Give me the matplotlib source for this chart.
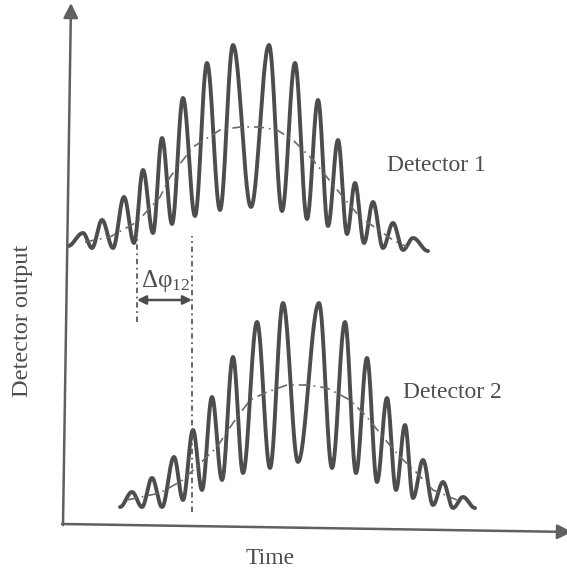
import matplotlib.pyplot as plt
import numpy as np

plt.rcParams['font.family'] = ['Liberation Serif', 'DejaVu Serif']
plt.rcParams['mathtext.fontset'] = 'custom'
plt.rcParams['mathtext.rm'] = 'Liberation Serif'
plt.rcParams['mathtext.it'] = 'Liberation Serif:italic'

# fringe extremes (alternating trough / peak), time vs detector output
det1_t = [68, 83, 92, 102, 113, 124, 134, 143, 153, 162, 172, 183, 195, 207, 220, 233, 251,
          269, 282, 295, 307, 318, 328, 338, 347, 355, 364, 373, 383, 393, 403, 413, 428]
det1_v = [323, 336, 321, 349, 321, 372, 326, 399, 336, 431, 345, 471, 353, 506, 359, 524, 362,
          524, 358, 506, 350, 469, 343, 429, 335, 386, 326, 367, 321, 346, 319, 331, 318]

det2_t = [120, 132, 142, 152, 162, 174, 183, 193, 202, 212, 222, 233, 243, 257, 270, 283, 298,
          319, 332, 345, 356, 367, 377, 387, 396, 405, 413, 423, 433, 443, 453, 463, 475]
det2_v = [62, 77, 62, 91, 62, 112, 69, 139, 79, 172, 89, 212, 96, 247, 101, 266, 107,
          266, 101, 247, 96, 211, 87, 171, 79, 144, 71, 109, 64, 87, 61, 72, 61]

# mean level (dash-dot)
env1_t = [85, 110, 137, 160, 170, 193, 220, 240, 260, 277, 293, 313, 343, 360, 393, 407]
env1_v = [327, 332, 347, 372, 392, 422, 439, 442, 442, 439, 429, 409, 372, 352, 329, 322]
env2_t = [127, 160, 183, 217, 233, 250, 267, 287, 307, 327, 350, 367, 383, 400, 417, 433, 457]
env2_v = [69, 76, 89, 122, 146, 169, 177, 184, 184, 181, 169, 152, 132, 112, 96, 79, 69]

# phase delay markers
mark_t = [137, 192]
mark_lo = [247, 57]
mark_hi = [337, 333]
arrow_v = 269

labels = ['Detector 1', 'Detector 2']

ink = '#4d4d4d'


def fringe(t, v, n=30):
    # smooth cosine stroke between consecutive extremes
    xs, ys = [], []
    for i in range(len(t) - 1):
        s = np.linspace(0, 1, n, endpoint=False)
        w = (1 - np.cos(np.pi * s)) / 2
        xs.append(t[i] + (t[i + 1] - t[i]) * s)
        ys.append(v[i] + (v[i + 1] - v[i]) * w)
    xs.append([t[-1]])
    ys.append([v[-1]])
    return np.concatenate(xs), np.concatenate(ys)


fig = plt.figure(figsize=(5.67, 5.69), dpi=100)
ax = fig.add_axes([0, 0, 1, 1])
ax.set_xlim(0, 567)
ax.set_ylim(0, 569)
ax.axis('off')

for t, v in [(det1_t, det1_v), (det2_t, det2_v)]:
    x, y = fringe(t, v)
    ax.plot(x, y, color=ink, lw=2.8, solid_capstyle='round', solid_joinstyle='round')

for t, v in [(env1_t, env1_v), (env2_t, env2_v)]:
    ax.plot(t, v, color='#6a6a6a', lw=1.2, ls=(0, (6, 3, 1, 3)))

for t, lo, hi in zip(mark_t, mark_lo, mark_hi):
    ax.plot([t, t], [lo, hi], color='#5a5a5a', lw=1.3, ls=(0, (3, 2, 1, 2)))

ax.annotate('', xy=(mark_t[0], arrow_v), xytext=(mark_t[1], arrow_v),
            arrowprops=dict(arrowstyle='<|-|>', color=ink, lw=1.8,
                            mutation_scale=13, shrinkA=0, shrinkB=0))
ax.text((mark_t[0] + mark_t[1]) / 2 + 1, arrow_v + 19, r'$\mathrm{\Delta\varphi}_{12}$',
        fontsize=18, color=ink, ha='center', va='center')

# axes drawn as arrows (scan is slightly tilted)
ax.annotate('', xy=(71, 566), xytext=(63, 44), annotation_clip=False,
            arrowprops=dict(arrowstyle='-|>', color='#606060', lw=1.8,
                            mutation_scale=22, shrinkA=0, shrinkB=0))
ax.annotate('', xy=(572, 37), xytext=(62, 45), annotation_clip=False,
            arrowprops=dict(arrowstyle='-|>', color='#606060', lw=1.8,
                            mutation_scale=22, shrinkA=0, shrinkB=0))

ax.text(387, 404, labels[0], fontsize=17, color=ink, ha='left', va='center')
ax.text(403, 177, labels[1], fontsize=17, color=ink, ha='left', va='center')
ax.text(270, 11, 'Time', fontsize=17, color=ink, ha='center', va='center')
ax.text(23, 248, 'Detector output', fontsize=17.5, color=ink, ha='center', va='center',
        rotation=90)

fig.savefig('out.png', dpi=100)
